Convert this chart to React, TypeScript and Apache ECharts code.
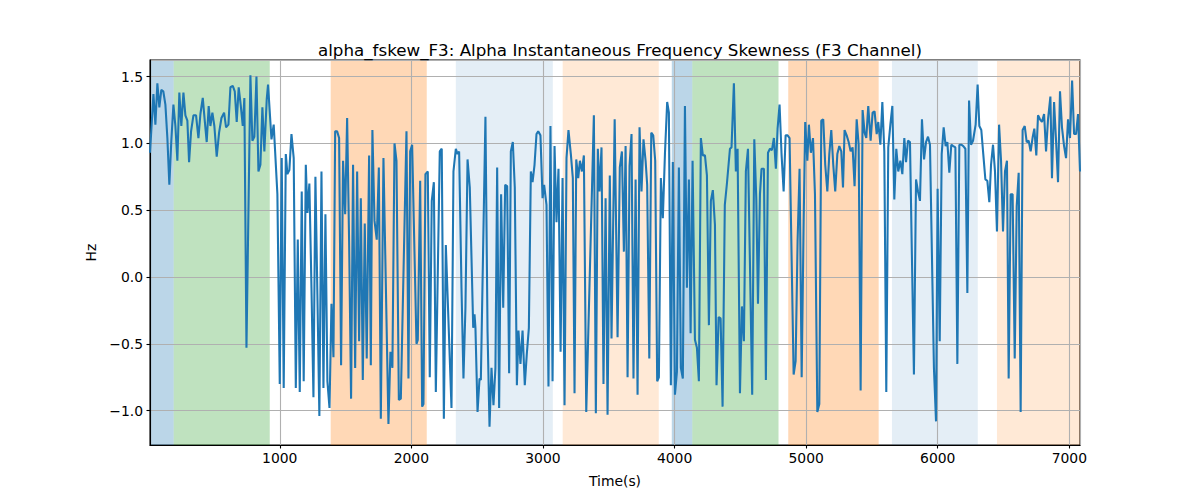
import React, { useEffect, useRef } from "react";
import * as echarts from "echarts";

const times: number[] = [
  14, 40, 55, 70, 85, 100, 115, 131, 146, 161, 176, 192, 207, 222, 237, 252, 268, 283, 298, 311,
  326, 344, 364, 382, 397, 415, 430, 445, 460, 473, 488, 503, 521, 539, 557, 577, 592, 610, 625, 643,
  658, 673, 688, 703, 719, 731, 747, 777, 792, 807, 823, 838, 853, 868, 883, 901,
  911, 937, 954, 982, 1000, 1015, 1030, 1046, 1058, 1073, 1089, 1106, 1122, 1137, 1152, 1167, 1182, 1198,
  1210, 1225, 1241, 1256, 1271, 1286, 1301, 1317, 1332, 1347, 1362, 1378, 1393, 1408, 1421, 1436, 1451,
  1466, 1481, 1497, 1512, 1527, 1542, 1557, 1573, 1588, 1603, 1616, 1631, 1646, 1661, 1679, 1692, 1704,
  1720, 1737, 1753, 1768, 1788,
  1826, 1841, 1856, 1872, 1887, 1905, 1920, 1963, 1978, 1991, 2006, 2039, 2049, 2067, 2082, 2092, 2107,
  2125, 2140, 2155, 2171, 2186, 2216, 2231, 2247, 2262, 2305, 2320, 2338, 2351, 2363, 2381, 2396, 2411,
  2427, 2444, 2470, 2480, 2487, 2503, 2518, 2528, 2563, 2579, 2594, 2609, 2624, 2639, 2652, 2667,
  2682, 2698, 2713, 2728, 2743, 2756, 2771, 2786, 2802, 2814, 2829, 2845, 2862, 2877, 2893, 2908, 2921,
  2936, 2951, 2964, 2981, 2997, 3009, 3027, 3042, 3057, 3073, 3088, 3103, 3118, 3134, 3149, 3164, 3179,
  3194, 3212, 3227, 3240, 3253, 3268, 3281, 3296, 3311, 3329, 3387, 3402, 3417, 3430, 3445, 3460, 3476,
  3491, 3508, 3521,
  3545, 3567, 3584, 3600, 3615, 3628, 3643, 3658, 3673, 3688, 3704, 3719, 3734, 3749, 3764, 3780, 3792,
  3808, 3823, 3838, 3853, 3868, 3881, 3896, 3911, 3927, 3944, 3957, 3972, 3987, 4003, 4018, 4033, 4048,
  4063, 4079, 4094, 4109, 4122, 4137, 4155, 4170, 4185, 4200, 4215, 4231, 4246, 4261, 4276, 4291, 4307,
  4319, 4335, 4350, 4365, 4382, 4398,
  4421, 4433, 4451, 4466, 4479, 4497, 4512, 4527, 4542, 4558, 4590, 4606, 4621, 4634, 4649, 4661, 4679,
  4694, 4710, 4725, 4740, 4755, 4770, 4783, 4798, 4813, 4829, 4844, 4859, 4874, 4890, 4905, 4920, 4935,
  4950, 4966, 4981, 4993, 5009, 5021, 5036, 5052, 5067, 5085, 5100, 5115, 5130, 5145, 5161, 5176, 5191,
  5206, 5221, 5237, 5252, 5267, 5280, 5292,
  5308, 5323, 5338, 5353, 5368, 5384, 5399, 5414, 5429, 5444, 5457, 5472, 5490, 5505, 5520, 5536, 5548,
  5564, 5579, 5594, 5609, 5624, 5640, 5655, 5670, 5685, 5700, 5716, 5731, 5746, 5759, 5774, 5789, 5819,
  5835, 5850, 5865, 5880, 5896, 5911, 5926, 5941, 5971, 5987, 5999, 6015, 6030, 6045, 6060, 6073, 6088,
  6103, 6118, 6134, 6149, 6164,
  6179, 6194, 6210, 6225, 6238, 6253, 6268, 6288, 6303, 6316, 6331, 6346, 6362, 6377, 6392, 6405, 6420,
  6435, 6450, 6466, 6481, 6496, 6511, 6526, 6539, 6554, 6569, 6585, 6600, 6615, 6630, 6645, 6661, 6676,
  6691, 6706, 6722, 6734, 6749, 6762, 6777, 6792, 6808, 6823, 6838, 6856, 6868, 6884, 6899, 6914, 6929,
  6944, 6960, 6975, 6990, 7005, 7021, 7036, 7051, 7066, 7081,
];

const values: number[] = [
  0.93, 1.37, 1.14, 1.45, 1.27, 1.4, 1.39, 1.29, 1.04, 0.69, 1.02, 1.29, 1.13, 0.87, 1.38, 1.13, 1.38, 1.21, 1.17, 0.86,
  1.09, 1.21, 1.21, 1.04, 1.22, 1.34, 1.17, 1.01, 1.28, 1.13, 1.23, 1.13, 0.9, 1.08, 1.19, 1.23, 1.12, 1.14, 1.42, 1.43,
  1.39, 1.16, 1.42, 1.29, 1.13, 1.34, -0.53, 1.51, 1.02, 1.05, 1.5, 0.79, 0.84, 1.27, 0.94, 1.33,
  1.44, 1.03, 1.14, 0.62, -0.8, 0.89, -0.83, 0.92, 0.77, 0.8, 1.07, 0.89, -0.83, 0.28, -0.86, 0.64, -0.78, 0.84,
  0.48, 0.7, -0.08, -0.9, 0.75, -0.13, -1.04, 0.79, -0.83, 0.47, -0.78, -0.98, -0.2, -0.6, 1.09, 1.09, 1.04,
  -0.66, 0.87, 0.47, 1.19, 0.27, -0.91, 0.84, -0.68, 0.79, -0.48, 0.59, -0.77, 0.4, -0.61, 0.91, -0.66, 1.1,
  0.42, 0.28, 0.82, -1.06, 0.89,
  -1.1, -0.56, -0.68, 1.0, 0.87, -0.92, -0.91, 1.09, -0.76, 0.94, 0.99, -0.5, -0.47, 0.72, -0.97, -0.95, 0.77,
  0.79, -0.75, 0.57, 0.71, -0.86, 0.94, 0.96, -1.06, 0.24, -0.98, 0.79, 0.96, 0.92, 0.94, -0.08, -0.76, -0.23,
  0.88, 0.67, -0.38, -0.28, -0.38, -1.01, -0.76, -0.77, 1.2, -0.41, -1.12, -0.68, -0.96, -0.68, 0.82, -0.98,
  0.62, -0.23, 0.69, 0.68, -0.72, 0.94, 1.01, 0.67, -0.81, -0.4, -0.65, -0.4, -0.81, -0.58, -0.38, 0.79, 0.71,
  0.84, 1.07, 1.09, 1.06, 0.59, 0.69, 0.54, -0.82, 1.13, -0.78, 0.98, 0.41, 0.81, -0.56, 0.74, -0.96, 0.89,
  1.1, 0.92, 0.74, -0.87, 0.88, 0.74, 0.87, 0.79, 0.91, -1.01, 1.21, -1.02, 0.96, 0.64, 0.97, -0.8, 0.59,
  -1.03, 0.76, -0.46,
  1.18, -0.45, 0.82, 0.94, 0.19, 0.98, -0.75, 0.83, 1.07, -0.76, 0.73, -0.88, 1.12, 0.64, 1.03, 0.87, 0.69,
  -0.61, 1.08, 1.06, 0.87, -0.78, -0.75, 0.74, 0.44, 0.92, 1.31, 1.23, -0.81, 0.86, -0.88, -0.71, 0.82, -0.68,
  -0.76, 1.28, -0.08, 0.73, -0.42, 0.87, -0.47, -0.53, -0.78, 1.04, 0.91, 0.91, 0.76, -0.36, 0.57, 0.65, 0.39,
  -0.81, -0.3, -0.31, -0.97, 0.54, 0.7,
  0.96, 0.97, 1.45, 0.79, 0.96, -0.87, -0.22, -0.48, 0.79, 0.96, -0.88, 1.03, 0.59, -0.2, 0.62, 0.81, 0.81,
  -0.77, 0.93, 0.96, 0.95, 1.04, 0.81, 1.11, 1.29, 0.92, 0.64, 1.06, 1.06, 1.04, 0.12, -0.73, -0.63, 0.27,
  0.81, -0.75, 0.42, 1.16, 0.87, 1.14, 0.93, 1.04, 0.62, -1.01, -0.95, 1.17, 1.18, 0.84, 0.64, 0.92, 1.1,
  0.84, 0.64, 0.92, 0.98, 0.94, 0.67, 1.1,
  1.06, 1.01, 0.94, 0.97, 0.68, 1.18, 0.99, -0.85, 1.25, 1.08, 1.04, 1.28, 1.02, 1.23, 1.24, 1.07, 1.16,
  0.99, 1.31, 0.94, -0.86, 0.97, 1.14, 1.28, 0.58, 0.96, 0.79, 0.87, 0.77, 1.04, 0.86, 1.02, 1.01, -0.73,
  0.73, 0.64, 0.57, 1.18, 0.88, 1.01, 1.05, 0.99, -0.68, -1.08, 0.66, -0.48, 0.92, 1.12, 0.98, 1.01, 0.78,
  0.99, 0.98, 0.97, -0.65, 0.99,
  0.99, 0.98, 0.96, -0.12, 1.32, 0.99, 1.02, 1.14, 1.44, 1.13, 1.1, 0.92, 0.73, 0.72, 0.56, 0.84, 0.99,
  0.79, 0.34, 1.14, 0.87, 0.34, 0.79, 0.87, -0.76, 0.62, 0.62, -0.61, 0.53, 0.78, -1.01, 1.1, 1.13, 1.01,
  1.02, 0.94, 1.05, 1.11, 0.91, 1.21, 1.18, 1.16, 1.22, 0.94, 1.18, 1.35, 0.74, 1.31, 1.02, 0.71, 1.39,
  1.12, 0.98, 0.89, 1.18, 1.04, 1.47, 1.07, 1.07, 1.22, 0.79,
];

// Shaded periods
const spanStarts: number[] = [14, 194, 1387, 2338, 3150, 3979, 4135, 4864, 5652, 6450];
const spanEnds: number[] = [194, 924, 2117, 3075, 3880, 4135, 4790, 5551, 6304, 7081];
const spanKinds: string[] = ["blue", "green", "orange", "lightblue", "lightorange", "blue", "green", "orange", "lightblue", "lightorange"];

const X_MIN = 14;
const X_MAX = 7081;
const Y_MIN = -1.257;
const Y_MAX = 1.624;

const kindColors: Record<string, string> = {
  blue: "rgba(31,119,180,0.3)",
  green: "rgba(44,160,44,0.3)",
  orange: "rgba(255,127,14,0.3)",
  lightblue: "rgba(31,119,180,0.12)",
  lightorange: "rgba(255,127,14,0.17)",
};

const FONT = "DejaVu Sans";

export default function App() {
  const ref = useRef<HTMLDivElement>(null);

  useEffect(() => {
    document.body.style.margin = "0";
    if (!ref.current) return;
    const chart = echarts.init(ref.current, null, { renderer: "svg" });

    const lineData = times.map((t, i) => [t, values[i]]);
    const areaData = spanStarts.map((s, i) => [
      { xAxis: s, itemStyle: { color: kindColors[spanKinds[i]] } },
      { xAxis: spanEnds[i] },
    ]);

    const fmtY = (v: number) => v.toFixed(1).replace("-", "\u2212");
    const fmtX = (v: number) => String(Math.round(v));

    chart.setOption({
      animation: false,
      backgroundColor: "#ffffff",
      title: {
        text: "alpha_fskew_F3: Alpha Instantaneous Frequency Skewness (F3 Channel)",
        left: 615,
        top: 36,
        textAlign: "center",
        textStyle: { fontFamily: FONT, fontSize: 16.7, fontWeight: "normal", color: "#000" },
      },
      grid: {
        left: 150,
        right: 120,
        top: 60,
        bottom: 55,
        show: true,
        borderColor: "#000",
        borderWidth: 1.1,
        backgroundColor: "transparent",
      },
      xAxis: {
        type: "value",
        min: X_MIN,
        max: X_MAX,
        minInterval: 1000,
        maxInterval: 1000,
        z: 2,
        name: "Time(s)",
        nameLocation: "middle",
        nameGap: 29,
        nameTextStyle: { fontFamily: FONT, fontSize: 13.9, color: "#000" },
        axisLine: { show: true, onZero: false, lineStyle: { color: "#000", width: 1.1 } },
        axisTick: { show: true, length: 3.5, lineStyle: { color: "#000", width: 1.1 } },
        axisLabel: {
          showMinLabel: false,
          showMaxLabel: false,
          margin: 6,
          fontFamily: FONT,
          fontSize: 13.9,
          color: "#000",
          formatter: fmtX,
        },
        splitLine: { show: true, lineStyle: { color: "#b0b0b0", width: 1.1 } },
      },
      yAxis: {
        type: "value",
        min: Y_MIN,
        max: Y_MAX,
        minInterval: 0.5,
        maxInterval: 0.5,
        z: 2,
        name: "Hz",
        nameLocation: "middle",
        nameGap: 50,
        nameRotate: 90,
        nameTextStyle: { fontFamily: FONT, fontSize: 13.9, color: "#000" },
        axisLine: { show: true, onZero: false, lineStyle: { color: "#000", width: 1.1 } },
        axisTick: { show: true, length: 3.5, lineStyle: { color: "#000", width: 1.1 } },
        axisLabel: {
          showMinLabel: false,
          showMaxLabel: false,
          margin: 7,
          fontFamily: FONT,
          fontSize: 13.9,
          color: "#000",
          formatter: fmtY,
        },
        splitLine: { show: true, lineStyle: { color: "#b0b0b0", width: 1.1 } },
      },
      series: [
        {
          type: "line",
          data: [],
          z: 1,
          silent: true,
          markArea: { silent: true, data: areaData },
        },
        {
          type: "line",
          data: lineData,
          z: 3,
          showSymbol: false,
          symbol: "none",
          lineStyle: { color: "#1f77b4", width: 2.08 },
        },
      ],
    });

    return () => chart.dispose();
  }, []);

  return (
    <div
      ref={ref}
      style={{ position: "absolute", left: 0, top: 0, width: 1200, height: 500 }}
    />
  );
}
